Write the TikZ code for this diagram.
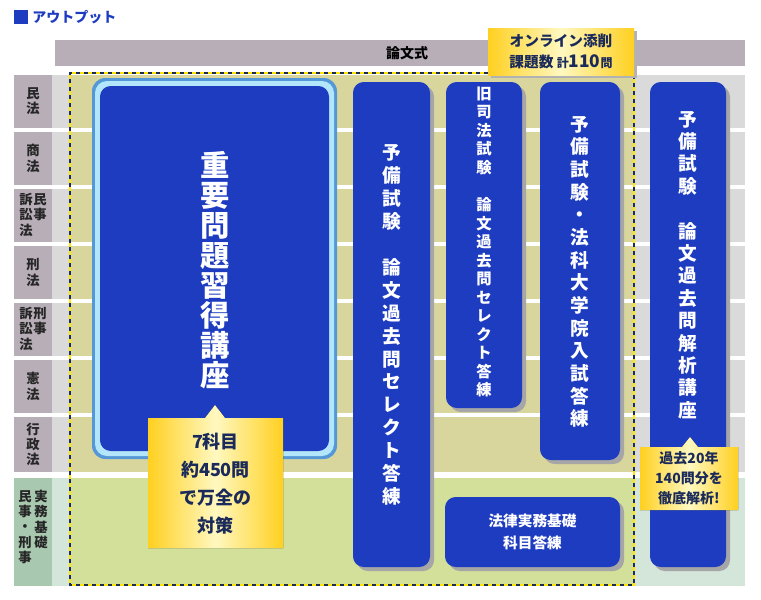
\documentclass[tikz,border=0pt]{standalone}
\usepackage{fontspec}
\setmainfont{Noto Sans CJK JP}
\usetikzlibrary{shapes.geometric}
\definecolor{mauve}{HTML}{B8AEB8}
\definecolor{khaki}{HTML}{D8D69C}
\definecolor{rowgray}{HTML}{DADADA}
\definecolor{greenrow}{HTML}{D2E09A}
\definecolor{greenlab}{HTML}{A8C8B0}
\definecolor{greenlt}{HTML}{D4E6DA}
\definecolor{boxblue}{HTML}{1E3CC0}
\definecolor{navy}{HTML}{1A2A5A}
\definecolor{gold}{HTML}{FFD020}
\definecolor{goldlt}{HTML}{FFF8C0}
\tikzset{
  course/.style={fill=boxblue,rounded corners=8pt},
  shadowbox/.style={fill=black!35,rounded corners=8pt},
  vtxt/.style={text=white,font=\bfseries,align=center,inner sep=0pt},
  lab/.style={fill=mauve,inner sep=0pt},
  labtxt/.style={font=\bfseries\fontsize{10}{11.5}\selectfont,text=black!85,align=center,inner sep=0pt},
  callout/.style={left color=gold,right color=gold,middle color=goldlt},
  ctxt/.style={text=navy,font=\bfseries,align=center,inner sep=0pt}
}
\begin{document}
\begin{tikzpicture}[x=0.75pt,y=-0.75pt]
\useasboundingbox (0,0) rectangle (761,600);
\fill[white] (0,0) rectangle (761,600);
% title
\fill[boxblue] (14,10) rectangle (28,24);
\node[anchor=west,text=boxblue,font=\bfseries\fontsize{10.5}{12}\selectfont,inner sep=0pt] (title) at (32,17) {アウトプット};
% top bar
\fill[mauve] (55,40) rectangle (745,66);
\node[font=\bfseries\fontsize{10.5}{12}\selectfont,inner sep=0pt] (ronbun) at (407,53) {論文式};
% rows
\foreach \a/\b in {75/128,132/185,189/242,246/299,303/356,360/413,417/472}{
  \fill[rowgray] (52,\a) rectangle (745,\b);
  \fill[khaki] (70,\a) rectangle (634,\b);
  \fill[lab] (14,\a) rectangle (52,\b);
}
\fill[white] (70,472) rectangle (634,478);
\fill[greenlt] (52,478) rectangle (745,586);
\fill[greenrow] (70,478) rectangle (634,586);
\fill[greenlab] (14,478) rectangle (52,586);
% labels
\node[labtxt] (l1) at (33,101.5) {民\\法};
\node[labtxt] (l2) at (33,158.5) {商\\法};
\node[labtxt,anchor=north] (l3a) at (26,193) {訴\\訟\\法};
\node[labtxt,anchor=north] (l3b) at (40,193) {民\\事};
\node[labtxt] (l4) at (33,272.5) {刑\\法};
\node[labtxt,anchor=north] (l5a) at (26,307) {訴\\訟\\法};
\node[labtxt,anchor=north] (l5b) at (40,307) {刑\\事};
\node[labtxt] (l6) at (33,386.5) {憲\\法};
\node[labtxt] (l7) at (33,444.5) {行\\政\\法};
\node[labtxt,anchor=north] (l8a) at (25,490) {民\\事\\・\\刑\\事};
\node[labtxt,anchor=north] (l8b) at (41,490) {実\\務\\基\\礎};
% dotted border
\draw[yellow!90!orange,line width=2pt] (488,73) -- (70,73) -- (70,585) -- (634,585) -- (634,73);
\draw[navy,line width=2pt,dash pattern=on 3pt off 3pt] (488,73) -- (70,73) -- (70,585) -- (634,585) -- (634,73);
% big box
\fill[cyan!60!blue!70,rounded corners=10pt] (92,78) rectangle (337,459);
\fill[white!70!cyan,rounded corners=9pt] (95,81) rectangle (334,456);
\fill[course] (100,86) rectangle (329,451);
\node[vtxt,font=\bfseries\fontsize{22}{22.5}\selectfont] (big) at (215,270) {重\\要\\問\\題\\習\\得\\講\\座};
% course columns
\fill[shadowbox] (357,86) rectangle (434,571);
\fill[course] (353,82) rectangle (430,567);
\node[vtxt,font=\bfseries\fontsize{14}{17.2}\selectfont] (c2) at (391.5,325) {予\\備\\試\\験\\\mbox{}\\論\\文\\過\\去\\問\\セ\\レ\\ク\\ト\\答\\練};
\fill[shadowbox] (450,86) rectangle (526,412);
\fill[course] (446,82) rectangle (522,408);
\node[vtxt,font=\bfseries\fontsize{11.5}{13.9}\selectfont] (c3) at (484,242) {旧\\司\\法\\試\\験\\\mbox{}\\論\\文\\過\\去\\問\\セ\\レ\\ク\\ト\\答\\練};
\fill[shadowbox] (544,86) rectangle (624,464);
\fill[course] (540,82) rectangle (620,460);
\node[vtxt,font=\bfseries\fontsize{14}{17}\selectfont] (c4) at (580,272) {予\\備\\試\\験\\・\\法\\科\\大\\学\\院\\入\\試\\答\\練};
\fill[shadowbox] (449,501) rectangle (624,571);
\fill[course] (445,497) rectangle (620,567);
\node[vtxt,font=\bfseries\fontsize{11}{16}\selectfont] (c5) at (532.5,532) {法律実務基礎\\科目答練};
\fill[shadowbox] (654,86) rectangle (730,571);
\fill[course] (650,82) rectangle (726,567);
\node[vtxt,font=\bfseries\fontsize{14}{16.8}\selectfont] (c6) at (688,265) {予\\備\\試\\験\\\mbox{}\\論\\文\\過\\去\\問\\解\\析\\講\\座};
% callouts
\fill[callout] (148,418) -- (205,418) -- (215,405) -- (225,418) -- (283,418) -- (283,548) -- (148,548) -- cycle;
\node[ctxt,font=\bfseries\fontsize{13.5}{21}\selectfont] (co1) at (215.5,484) {7科目\\約450問\\で万全の\\対策};
\fill[callout] (640,447) -- (682,447) -- (690,437) -- (698,447) -- (738,447) -- (738,510) -- (640,510) -- cycle;
\node[ctxt,font=\bfseries\fontsize{10.5}{15}\selectfont] (co2) at (689,478.5) {過去20年\\140問分を\\徹底解析!};
% badge
\fill[black!30] (491,31) rectangle (637,78);
\fill[callout] (488,28) rectangle (634,75);
\node[ctxt,font=\bfseries\fontsize{11}{16}\selectfont] (badge) at (561,51.5) {オンライン添削\\課題数 {\fontsize{9}{10}\selectfont 計}\fontsize{13}{16}\selectfont 110{\fontsize{9}{10}\selectfont 問}};
\end{tikzpicture}
\end{document}
